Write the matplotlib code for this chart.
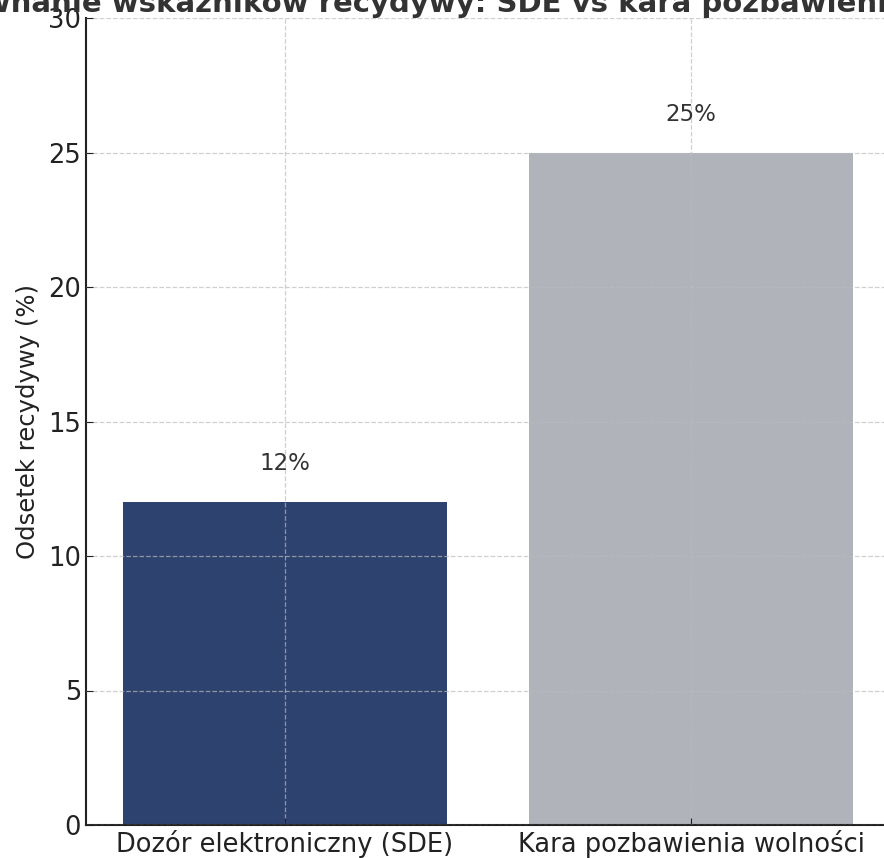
import matplotlib
matplotlib.use("Agg")
import matplotlib.pyplot as plt

categories = ["Dozór elektroniczny (SDE)", "Kara pozbawienia wolności"]
values = [12, 25]
labels = ["12%", "25%"]
colors = ["#2E4270", "#B0B3BA"]
title = "Porównanie wskaźników recydywy: SDE vs kara pozbawienia wolności"
ylabel = "Odsetek recydywy (%)"
yticks = [0, 5, 10, 15, 20, 25, 30]

fig = plt.figure(figsize=(8.84, 8.58), dpi=100)
ax = fig.add_axes([86 / 884, 33 / 858, 804 / 884, 807 / 858])

ax.bar(categories, values, color=colors, width=0.8, zorder=1)
ax.set_xlim(-0.49, 1.49)
ax.set_ylim(0, 30)
ax.set_yticks(yticks)
ax.grid(True, linestyle="--", color="#bbbbbb", alpha=0.7, linewidth=0.9, zorder=2)
ax.set_axisbelow(False)

for i, (v, lab) in enumerate(zip(values, labels)):
    ax.text(i, v + 1.0, lab, ha="center", va="bottom", fontsize=16.5, color="#333333", zorder=3)

ax.set_ylabel(ylabel, fontsize=17.5, color="#222222", labelpad=6)
ax.set_title(title, fontsize=21, fontweight="bold", color="#333333", pad=3, x=0.495)
ax.tick_params(axis="both", labelsize=18.5, direction="in", length=5, colors="#222222", labelcolor="#222222")
for s in ["top", "right"]:
    ax.spines[s].set_visible(False)
for s in ["left", "bottom"]:
    ax.spines[s].set_linewidth(1.5)
    ax.spines[s].set_color("#222222")

fig.savefig("out.png", dpi=100)
